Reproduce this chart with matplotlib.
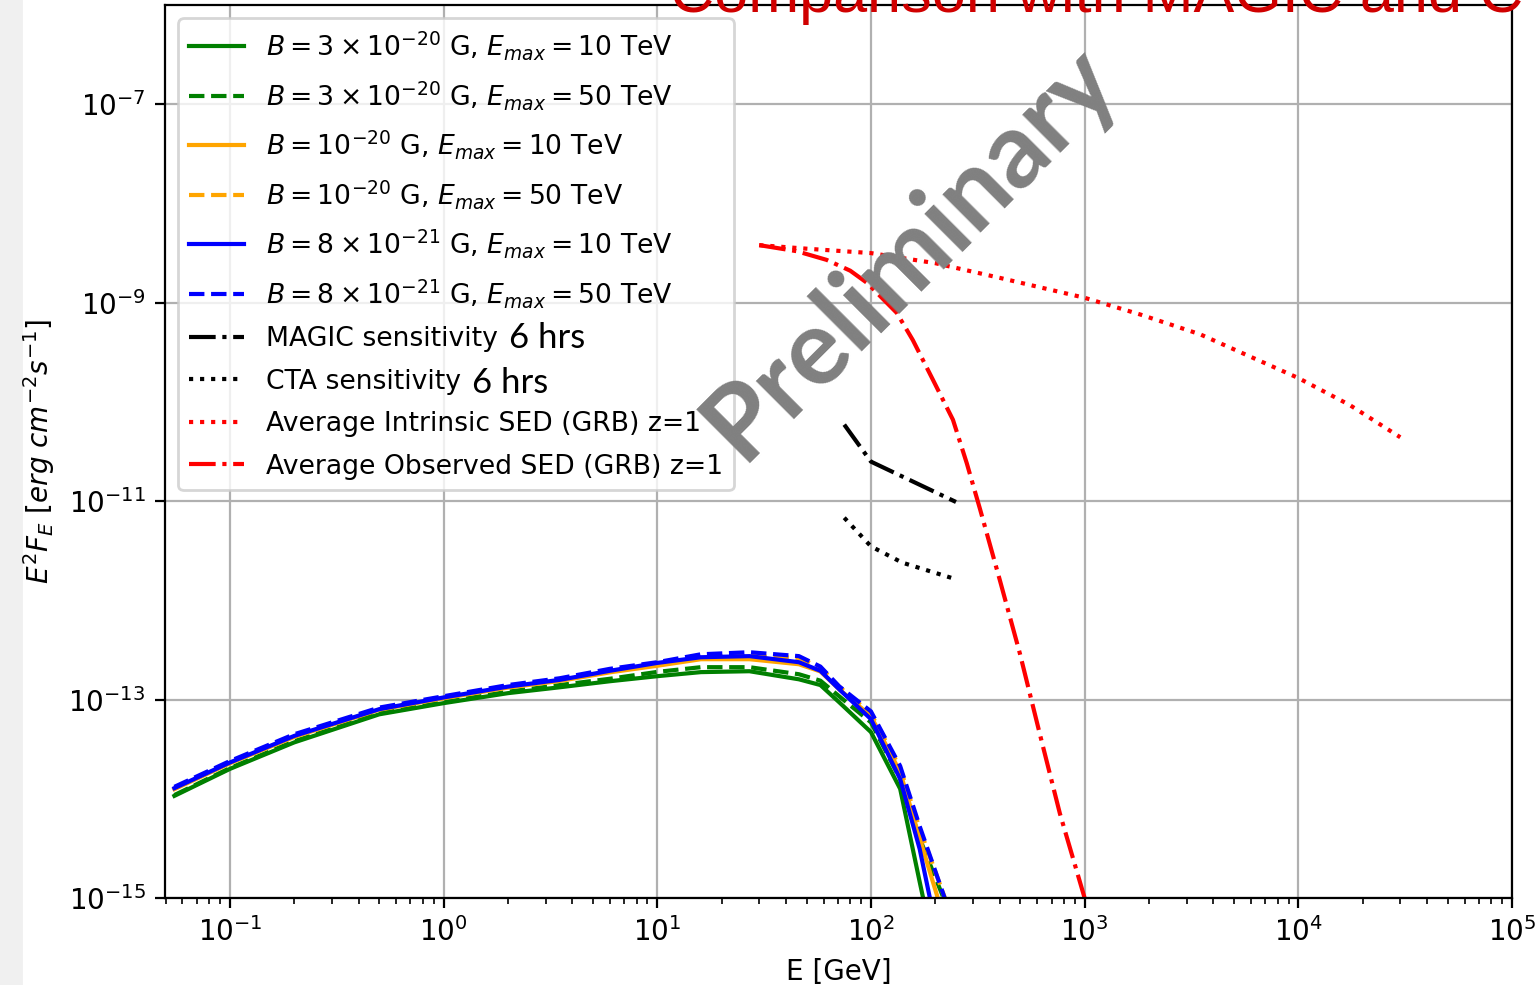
import numpy as np
import matplotlib
matplotlib.use('Agg')
import matplotlib.pyplot as plt
from matplotlib.patches import Rectangle

# Energy grid for the cascade curves [GeV]
e_casc = [0.055, 0.1, 0.2, 0.5, 1, 2, 3.5, 6, 10, 16, 27, 46, 58, 71, 100, 137, 169, 230]

# Cascade SEDs E^2 F_E [erg cm^-2 s^-1]
b3_10 = [1.07e-14, 2.0e-14, 3.7e-14, 7.1e-14, 9.2e-14, 1.16e-13, 1.33e-13, 1.53e-13, 1.72e-13,
         1.89e-13, 1.93e-13, 1.60e-13, 1.40e-13, 9.4e-14, 4.7e-14, 1.26e-14, 1.46e-15, 6.6e-17]
b3_50 = [1.09e-14, 2.04e-14, 3.8e-14, 7.24e-14, 9.4e-14, 1.2e-13, 1.40e-13, 1.62e-13, 1.9e-13,
         2.12e-13, 2.12e-13, 1.8e-13, 1.55e-13, 1.08e-13, 5.9e-14, 1.58e-14, 4.0e-15, 7.6e-16]
b1_10 = [1.25e-14, 2.28e-14, 4.2e-14, 7.9e-14, 1.03e-13, 1.32e-13, 1.54e-13, 1.88e-13, 2.19e-13,
         2.55e-13, 2.55e-13, 2.27e-13, 1.92e-13, 1.27e-13, 6.8e-14, 1.86e-14, 4.0e-15, 4.5e-16]
b1_50 = [1.28e-14, 2.32e-14, 4.3e-14, 8.0e-14, 1.05e-13, 1.35e-13, 1.58e-13, 1.95e-13, 2.29e-13,
         2.69e-13, 2.75e-13, 2.63e-13, 2.1e-13, 1.35e-13, 7.2e-14, 2.04e-14, 5.0e-15, 8.1e-16]
b8_10 = [1.28e-14, 2.32e-14, 4.3e-14, 8.0e-14, 1.05e-13, 1.35e-13, 1.58e-13, 1.95e-13, 2.34e-13,
         2.67e-13, 2.74e-13, 2.38e-13, 1.95e-13, 1.27e-13, 6.35e-14, 1.58e-14, 3.13e-15, 1.3e-16]
b8_50 = [1.32e-14, 2.4e-14, 4.47e-14, 8.3e-14, 1.08e-13, 1.40e-13, 1.64e-13, 2.04e-13, 2.38e-13,
         2.86e-13, 3.0e-13, 2.74e-13, 2.15e-13, 1.36e-13, 7.6e-14, 2.14e-14, 5.3e-15, 7.9e-16]

# Sensitivities
e_magic = [75, 100, 250]
magic = [5.9e-11, 2.5e-11, 9.8e-12]
e_cta = [75, 100, 140, 250]
cta = [6.8e-12, 3.5e-12, 2.4e-12, 1.63e-12]

# GRB SEDs
e_intr = [30, 50, 100, 200, 400, 1000, 1820, 3470, 10000, 17400, 30000]
intr = [3.8e-9, 3.5e-9, 3.16e-9, 2.5e-9, 1.78e-9, 1.12e-9, 7.6e-10, 4.8e-10, 1.74e-10, 9.3e-11, 4.4e-11]
e_obs = [30, 45, 62, 80, 96, 132, 157, 195, 242, 281, 324, 401, 498, 617, 766, 1000]
obs = [3.8e-9, 3.3e-9, 2.7e-9, 2.1e-9, 1.58e-9, 7.9e-10, 4.2e-10, 1.67e-10, 6.6e-11, 2.4e-11,
       8.3e-12, 1.6e-12, 2.9e-13, 4.5e-14, 7.1e-15, 1e-15]

fig = plt.figure(figsize=(7.68, 4.925), dpi=200)
ax = fig.add_axes([165/1536, 1-898/985, (1512-165)/1536, (898-5)/985])

# Gray slide strip on the left
fig.patches.append(Rectangle((0, 0), 21/1536, 1, transform=fig.transFigure,
                             color='#f0f0f0', zorder=-1))

ax.plot(e_casc, b3_10, color='green', ls='-', label=r'$B = 3 \times 10^{-20}$ G, $E_{max} = 10$ TeV')
ax.plot(e_casc, b3_50, color='green', ls='--', label=r'$B = 3 \times 10^{-20}$ G, $E_{max} = 50$ TeV')
ax.plot(e_casc, b1_10, color='orange', ls='-', label=r'$B = 10^{-20}$ G, $E_{max} = 10$ TeV')
ax.plot(e_casc, b1_50, color='orange', ls='--', label=r'$B = 10^{-20}$ G, $E_{max} = 50$ TeV')
ax.plot(e_casc, b8_10, color='blue', ls='-', label=r'$B = 8 \times 10^{-21}$ G, $E_{max} = 10$ TeV')
ax.plot(e_casc, b8_50, color='blue', ls='--', label=r'$B = 8 \times 10^{-21}$ G, $E_{max} = 50$ TeV')
ax.plot(e_magic, magic, color='black', ls='-.', label='MAGIC sensitivity')
ax.plot(e_cta, cta, color='black', ls=':', label='CTA sensitivity')
ax.plot(e_intr, intr, color='red', ls=':', label='Average Intrinsic SED (GRB) z=1')
ax.plot(e_obs, obs, color='red', ls='-.', label='Average Observed SED (GRB) z=1')

ax.set_xscale('log')
ax.set_yscale('log')
ax.set_xlim(0.0497, 1e5)
ax.set_ylim(1e-15, 1e-6)
ax.set_yticks([1e-15, 1e-13, 1e-11, 1e-9, 1e-7])
ax.yaxis.set_minor_locator(matplotlib.ticker.NullLocator())
ax.grid(True)
ax.set_xlabel('E [GeV]')
ax.set_ylabel(r'$E^2F_E\ [erg\ cm^{-2}s^{-1}]$')
leg = ax.legend(loc='upper left', fontsize=9.6, labelspacing=0.62, handlelength=2.08)

# "6 hrs" pasted after the two sensitivity labels (slide overlay)
fig.canvas.draw()
renderer = fig.canvas.get_renderer()
for txt, drop in zip(leg.get_texts()[6:8], [2, 4]):
    bb = txt.get_window_extent(renderer)
    fig.text((bb.x1 + 11) / 1536, (bb.y0 + 6 - drop) / 985, '6 hrs', family='Lato',
             fontsize=12.5, va='baseline')

fig.text(910/1536, 1-252/985, 'Preliminary', family='Lato', fontsize=38, weight='bold',
         color='#808080', rotation=45, ha='center', va='center', rotation_mode='anchor')
fig.text(670/1536, 1-12/985, 'Comparison with MAGIC and CTA', family='Liberation Sans',
         fontsize=22, color='#d00000', va='baseline')

fig.savefig('out.png', dpi=200)
